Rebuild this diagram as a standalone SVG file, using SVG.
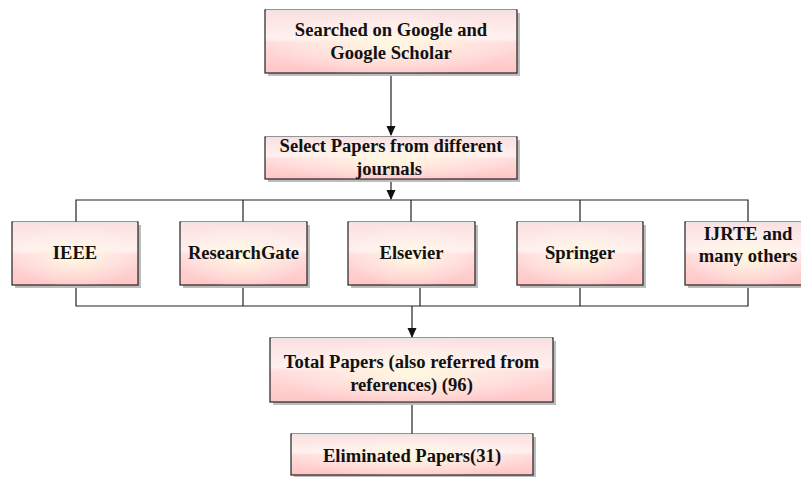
<svg xmlns="http://www.w3.org/2000/svg" width="801" height="477" viewBox="0 0 801 477">
<defs>
<linearGradient id="lg" x1="0" y1="0" x2="0" y2="1">
<stop offset="0" stop-color="#fbe0e0"/>
<stop offset="0.45" stop-color="#fff0ee"/>
<stop offset="0.52" stop-color="#ffdcdc"/>
<stop offset="1" stop-color="#ffc6c6"/>
</linearGradient>
<radialGradient id="rg" cx="0.5" cy="0.55" r="0.5">
<stop offset="0" stop-color="#fffbe0" stop-opacity="0.95"/>
<stop offset="0.6" stop-color="#fff6e6" stop-opacity="0.4"/>
<stop offset="1" stop-color="#ffffff" stop-opacity="0"/>
</radialGradient>
<marker id="arr" markerWidth="10" markerHeight="10" refX="9" refY="5" orient="auto" markerUnits="userSpaceOnUse">
<path d="M0,0.5 L10,5 L0,9.5 Z" fill="#111"/>
</marker>
</defs>
<style>
.sh{fill:#bdbdbd;}
.bx{fill:url(#lg);stroke:#222;stroke-width:1.2;}
.gl{fill:url(#rg);}
.tl{stroke:#e6e6e6;stroke-width:1.5;}
.t{font-family:"Liberation Serif","Times New Roman",serif;font-weight:bold;font-size:18.6px;fill:#111;text-anchor:middle;}
.c{fill:none;stroke:#222;stroke-width:1.2;}
</style>
<rect width="801" height="477" fill="#fff"/>
<g id="connectors">
<path class="c" d="M391,73 V135" marker-end="url(#arr)"/>
<path class="c" d="M391,179 V199" marker-end="url(#arr)"/>
<path class="c" d="M76,222 V200 H748 V222"/>
<path class="c" d="M243,200 V222 M411,200 V222 M580,200 V222"/>
<path class="c" d="M76,285 V306 H748 V285"/>
<path class="c" d="M243,285 V306 M420,285 V306 M580,285 V306"/>
<path class="c" d="M412,306 V337" marker-end="url(#arr)"/>
<path class="c" d="M412,402 V434"/>
</g>
<g id="n1">
<rect class="sh" x="268" y="13" width="252" height="63"/>
<rect class="bx" x="265" y="10" width="252" height="63"/>
<rect class="gl" x="265" y="10" width="252" height="63"/>
<line class="tl" x1="266" y1="10.6" x2="516" y2="10.6"/>
<text class="t" x="391" y="36">Searched on Google and</text>
<text class="t" x="391" y="59">Google Scholar</text>
</g>
<g id="n2">
<rect class="sh" x="268" y="140" width="252" height="42"/>
<rect class="bx" x="265" y="137" width="252" height="42"/>
<rect class="gl" x="265" y="137" width="252" height="42"/>
<line class="tl" x1="266" y1="137.6" x2="516" y2="137.6"/>
<text class="t" x="391" y="152">Select Papers from different</text>
<text class="t" x="389" y="175">journals</text>
</g>
<g id="ieee">
<rect class="sh" x="15" y="225" width="126" height="63"/>
<rect class="bx" x="12" y="222" width="126" height="63"/>
<rect class="gl" x="12" y="222" width="126" height="63"/>
<line class="tl" x1="13" y1="222.6" x2="137" y2="222.6"/>
<text class="t" x="75" y="259">IEEE</text>
</g>
<g id="researchgate">
<rect class="sh" x="183" y="225" width="127" height="63"/>
<rect class="bx" x="180" y="222" width="127" height="63"/>
<rect class="gl" x="180" y="222" width="127" height="63"/>
<line class="tl" x1="181" y1="222.6" x2="306" y2="222.6"/>
<text class="t" x="243.5" y="259">ResearchGate</text>
</g>
<g id="elsevier">
<rect class="sh" x="351" y="225" width="127" height="63"/>
<rect class="bx" x="348" y="222" width="127" height="63"/>
<rect class="gl" x="348" y="222" width="127" height="63"/>
<line class="tl" x1="349" y1="222.6" x2="474" y2="222.6"/>
<text class="t" x="411.5" y="259">Elsevier</text>
</g>
<g id="springer">
<rect class="sh" x="520" y="225" width="126" height="63"/>
<rect class="bx" x="517" y="222" width="126" height="63"/>
<rect class="gl" x="517" y="222" width="126" height="63"/>
<line class="tl" x1="518" y1="222.6" x2="642" y2="222.6"/>
<text class="t" x="580" y="259">Springer</text>
</g>
<g id="ijrte">
<rect class="sh" x="688" y="225" width="126" height="63"/>
<rect class="bx" x="685" y="222" width="126" height="63"/>
<rect class="gl" x="685" y="222" width="126" height="63"/>
<line class="tl" x1="686" y1="222.6" x2="810" y2="222.6"/>
<text class="t" x="748" y="240">IJRTE and</text>
<text class="t" x="748" y="262">many others</text>
</g>
<g id="total">
<rect class="sh" x="273" y="341" width="283" height="64"/>
<rect class="bx" x="270" y="338" width="283" height="64"/>
<rect class="gl" x="270" y="338" width="283" height="64"/>
<line class="tl" x1="271" y1="338.6" x2="552" y2="338.6"/>
<text class="t" x="411.5" y="368">Total Papers (also referred from</text>
<text class="t" x="411.5" y="391">references) (96)</text>
</g>
<g id="eliminated">
<rect class="sh" x="294" y="437" width="242" height="42"/>
<rect class="bx" x="291" y="434" width="242" height="41"/>
<rect class="gl" x="291" y="434" width="242" height="41"/>
<line class="tl" x1="292" y1="434.6" x2="532" y2="434.6"/>
<text class="t" x="412" y="462">Eliminated Papers(31)</text>
</g>
</svg>
